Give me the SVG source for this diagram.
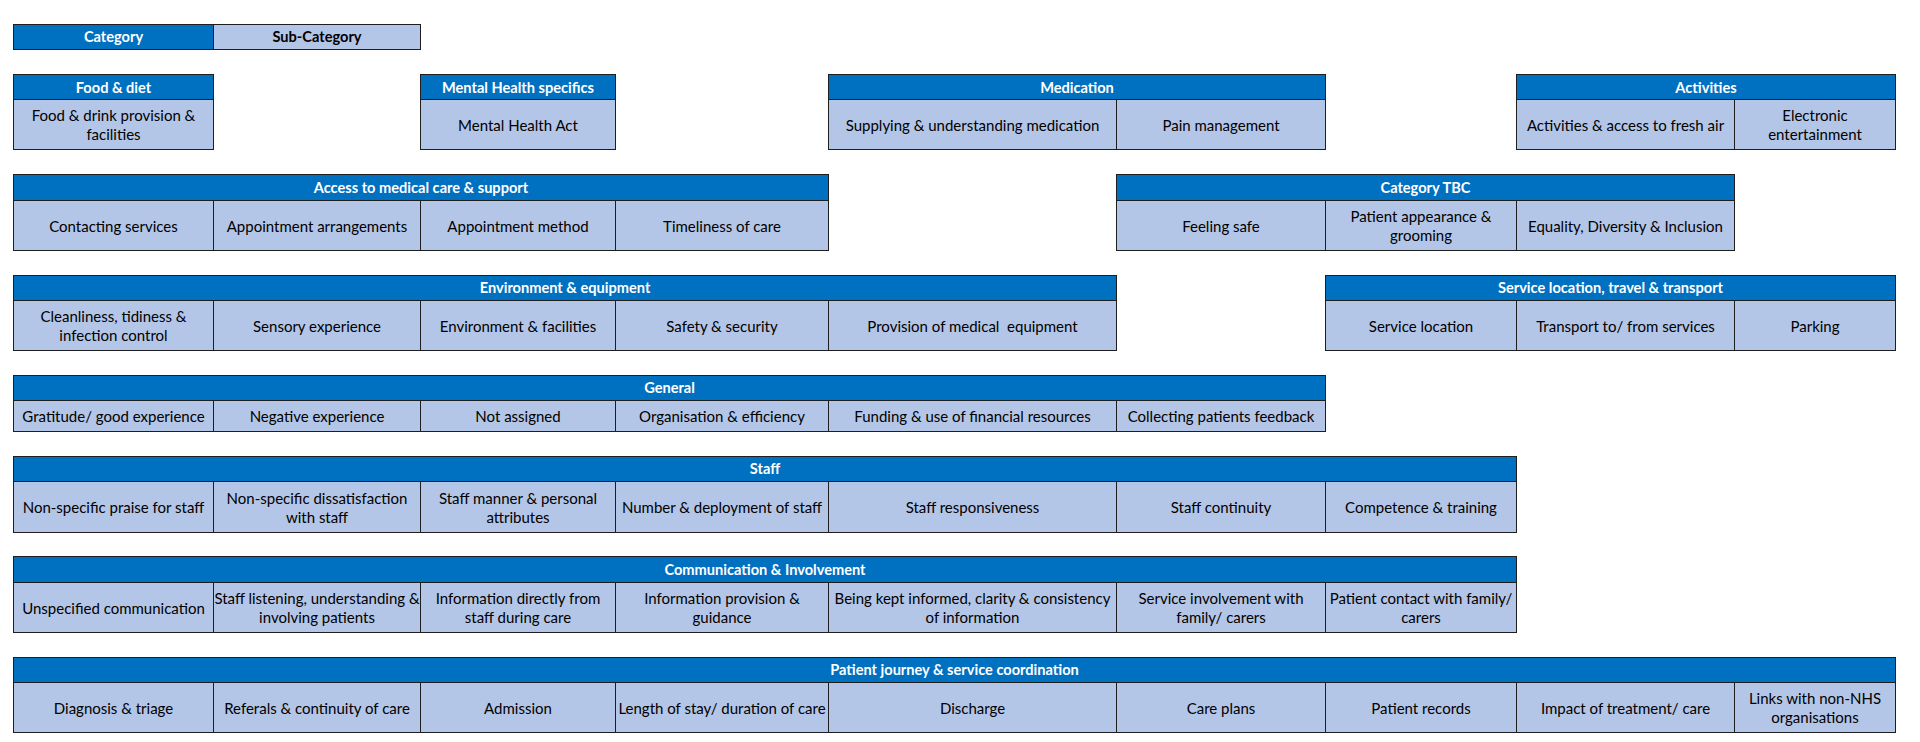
<svg xmlns="http://www.w3.org/2000/svg" width="1920" height="742" viewBox="0 0 1920 742">
  <style>
    .h { fill: #0070C0; stroke: #1e1e1e; stroke-width: 1; }
    .s { fill: #B4C6E7; stroke: #1e1e1e; stroke-width: 1; }
    .ht { font-family: Lato, "Liberation Sans", sans-serif; font-weight: bold; font-size: 14.6px; fill: #ffffff; text-anchor: middle; }
    .lt { font-family: Lato, "Liberation Sans", sans-serif; font-weight: bold; font-size: 14.6px; fill: #000000; text-anchor: middle; }
    .bt { font-family: Lato, "Liberation Sans", sans-serif; font-size: 15px; fill: #000000; text-anchor: middle; }
  </style>
  <rect width="1920" height="742" fill="#ffffff"/>

  <!-- Key -->
  <g id="legend">
    <rect class="h" x="13.5" y="24.5" width="200" height="25"/>
    <rect class="s" x="213.5" y="24.5" width="207" height="25"/>
    <text class="ht" x="113.5" y="42">Category</text>
    <text class="lt" x="317" y="42">Sub-Category</text>
  </g>

  <!-- Row 1 -->
  <g id="food-diet">
    <rect class="h" x="13.5" y="74.5" width="200" height="25"/>
    <rect class="s" x="13.5" y="99.5" width="200" height="50"/>
    <text class="ht" x="113.5" y="93">Food &amp; diet</text>
    <text class="bt" x="113.5" y="121"><tspan x="113.5">Food &amp; drink provision &amp;</tspan><tspan x="113.5" dy="19">facilities</tspan></text>
  </g>

  <g id="mental-health">
    <rect class="h" x="420.5" y="74.5" width="195" height="25"/>
    <rect class="s" x="420.5" y="99.5" width="195" height="50"/>
    <text class="ht" x="518" y="93">Mental Health specifics</text>
    <text class="bt" x="518" y="130.5">Mental Health Act</text>
  </g>

  <g id="medication">
    <rect class="h" x="828.5" y="74.5" width="497" height="25"/>
    <rect class="s" x="828.5" y="99.5" width="288" height="50"/>
    <rect class="s" x="1116.5" y="99.5" width="209" height="50"/>
    <text class="ht" x="1077" y="93">Medication</text>
    <text class="bt" x="972.5" y="130.5">Supplying &amp; understanding medication</text>
    <text class="bt" x="1221" y="130.5">Pain management</text>
  </g>

  <g id="activities">
    <rect class="h" x="1516.5" y="74.5" width="379" height="25"/>
    <rect class="s" x="1516.5" y="99.5" width="218" height="50"/>
    <rect class="s" x="1734.5" y="99.5" width="161" height="50"/>
    <text class="ht" x="1706" y="93">Activities</text>
    <text class="bt" x="1625.5" y="130.5">Activities &amp; access to fresh air</text>
    <text class="bt" x="1815" y="121"><tspan x="1815">Electronic</tspan><tspan x="1815" dy="19">entertainment</tspan></text>
  </g>

  <!-- Row 2 -->
  <g id="access-care">
    <rect class="h" x="13.5" y="174.5" width="815" height="26"/>
    <rect class="s" x="13.5" y="200.5" width="200" height="50"/>
    <rect class="s" x="213.5" y="200.5" width="207" height="50"/>
    <rect class="s" x="420.5" y="200.5" width="195" height="50"/>
    <rect class="s" x="615.5" y="200.5" width="213" height="50"/>
    <text class="ht" x="421" y="193">Access to medical care &amp; support</text>
    <text class="bt" x="113.5" y="231.5">Contacting services</text>
    <text class="bt" x="317" y="231.5">Appointment arrangements</text>
    <text class="bt" x="518" y="231.5">Appointment method</text>
    <text class="bt" x="722" y="231.5">Timeliness of care</text>
  </g>

  <g id="category-tbc">
    <rect class="h" x="1116.5" y="174.5" width="618" height="26"/>
    <rect class="s" x="1116.5" y="200.5" width="209" height="50"/>
    <rect class="s" x="1325.5" y="200.5" width="191" height="50"/>
    <rect class="s" x="1516.5" y="200.5" width="218" height="50"/>
    <text class="ht" x="1425.5" y="193">Category TBC</text>
    <text class="bt" x="1221" y="231.5">Feeling safe</text>
    <text class="bt" x="1421" y="222"><tspan x="1421">Patient appearance &amp;</tspan><tspan x="1421" dy="19">grooming</tspan></text>
    <text class="bt" x="1625.5" y="231.5">Equality, Diversity &amp; Inclusion</text>
  </g>

  <!-- Row 3 -->
  <g id="environment">
    <rect class="h" x="13.5" y="275.5" width="1103" height="25"/>
    <rect class="s" x="13.5" y="300.5" width="200" height="50"/>
    <rect class="s" x="213.5" y="300.5" width="207" height="50"/>
    <rect class="s" x="420.5" y="300.5" width="195" height="50"/>
    <rect class="s" x="615.5" y="300.5" width="213" height="50"/>
    <rect class="s" x="828.5" y="300.5" width="288" height="50"/>
    <text class="ht" x="565" y="293">Environment &amp; equipment</text>
    <text class="bt" x="113.5" y="322"><tspan x="113.5">Cleanliness, tidiness &amp;</tspan><tspan x="113.5" dy="19">infection control</tspan></text>
    <text class="bt" x="317" y="331.5">Sensory experience</text>
    <text class="bt" x="518" y="331.5">Environment &amp; facilities</text>
    <text class="bt" x="722" y="331.5">Safety &amp; security</text>
    <text class="bt" x="972.5" y="331.5" xml:space="preserve">Provision of medical  equipment</text>
  </g>

  <g id="service-location">
    <rect class="h" x="1325.5" y="275.5" width="570" height="25"/>
    <rect class="s" x="1325.5" y="300.5" width="191" height="50"/>
    <rect class="s" x="1516.5" y="300.5" width="218" height="50"/>
    <rect class="s" x="1734.5" y="300.5" width="161" height="50"/>
    <text class="ht" x="1610.5" y="293">Service location, travel &amp; transport</text>
    <text class="bt" x="1421" y="331.5">Service location</text>
    <text class="bt" x="1625.5" y="331.5">Transport to/ from services</text>
    <text class="bt" x="1815" y="331.5">Parking</text>
  </g>

  <!-- Row 4 -->
  <g id="general">
    <rect class="h" x="13.5" y="375.5" width="1312" height="25"/>
    <rect class="s" x="13.5" y="400.5" width="200" height="31"/>
    <rect class="s" x="213.5" y="400.5" width="207" height="31"/>
    <rect class="s" x="420.5" y="400.5" width="195" height="31"/>
    <rect class="s" x="615.5" y="400.5" width="213" height="31"/>
    <rect class="s" x="828.5" y="400.5" width="288" height="31"/>
    <rect class="s" x="1116.5" y="400.5" width="209" height="31"/>
    <text class="ht" x="669.5" y="393">General</text>
    <text class="bt" x="113.5" y="422">Gratitude/ good experience</text>
    <text class="bt" x="317" y="422">Negative experience</text>
    <text class="bt" x="518" y="422">Not assigned</text>
    <text class="bt" x="722" y="422">Organisation &amp; efficiency</text>
    <text class="bt" x="972.5" y="422">Funding &amp; use of financial resources</text>
    <text class="bt" x="1221" y="422">Collecting patients feedback</text>
  </g>

  <!-- Row 5 -->
  <g id="staff">
    <rect class="h" x="13.5" y="456.5" width="1503" height="25"/>
    <rect class="s" x="13.5" y="481.5" width="200" height="51"/>
    <rect class="s" x="213.5" y="481.5" width="207" height="51"/>
    <rect class="s" x="420.5" y="481.5" width="195" height="51"/>
    <rect class="s" x="615.5" y="481.5" width="213" height="51"/>
    <rect class="s" x="828.5" y="481.5" width="288" height="51"/>
    <rect class="s" x="1116.5" y="481.5" width="209" height="51"/>
    <rect class="s" x="1325.5" y="481.5" width="191" height="51"/>
    <text class="ht" x="765" y="474">Staff</text>
    <text class="bt" x="113.5" y="513">Non-specific praise for staff</text>
    <text class="bt" x="317" y="503.5"><tspan x="317">Non-specific dissatisfaction</tspan><tspan x="317" dy="19">with staff</tspan></text>
    <text class="bt" x="518" y="503.5"><tspan x="518">Staff manner &amp; personal</tspan><tspan x="518" dy="19">attributes</tspan></text>
    <text class="bt" x="722" y="513">Number &amp; deployment of staff</text>
    <text class="bt" x="972.5" y="513">Staff responsiveness</text>
    <text class="bt" x="1221" y="513">Staff continuity</text>
    <text class="bt" x="1421" y="513">Competence &amp; training</text>
  </g>

  <!-- Row 6 -->
  <g id="communication">
    <rect class="h" x="13.5" y="556.5" width="1503" height="26"/>
    <rect class="s" x="13.5" y="582.5" width="200" height="50"/>
    <rect class="s" x="213.5" y="582.5" width="207" height="50"/>
    <rect class="s" x="420.5" y="582.5" width="195" height="50"/>
    <rect class="s" x="615.5" y="582.5" width="213" height="50"/>
    <rect class="s" x="828.5" y="582.5" width="288" height="50"/>
    <rect class="s" x="1116.5" y="582.5" width="209" height="50"/>
    <rect class="s" x="1325.5" y="582.5" width="191" height="50"/>
    <text class="ht" x="765" y="574.5">Communication &amp; Involvement</text>
    <text class="bt" x="113.5" y="613.5">Unspecified communication</text>
    <text class="bt" x="317" y="604"><tspan x="317">Staff listening, understanding &amp;</tspan><tspan x="317" dy="19">involving patients</tspan></text>
    <text class="bt" x="518" y="604"><tspan x="518">Information directly from</tspan><tspan x="518" dy="19">staff during care</tspan></text>
    <text class="bt" x="722" y="604"><tspan x="722">Information provision &amp;</tspan><tspan x="722" dy="19">guidance</tspan></text>
    <text class="bt" x="972.5" y="604"><tspan x="972.5">Being kept informed, clarity &amp; consistency</tspan><tspan x="972.5" dy="19">of information</tspan></text>
    <text class="bt" x="1221" y="604"><tspan x="1221">Service involvement with</tspan><tspan x="1221" dy="19">family/ carers</tspan></text>
    <text class="bt" x="1421" y="604"><tspan x="1421">Patient contact with family/</tspan><tspan x="1421" dy="19">carers</tspan></text>
  </g>

  <!-- Row 7 -->
  <g id="patient-journey">
    <rect class="h" x="13.5" y="657.5" width="1882" height="25"/>
    <rect class="s" x="13.5" y="682.5" width="200" height="50"/>
    <rect class="s" x="213.5" y="682.5" width="207" height="50"/>
    <rect class="s" x="420.5" y="682.5" width="195" height="50"/>
    <rect class="s" x="615.5" y="682.5" width="213" height="50"/>
    <rect class="s" x="828.5" y="682.5" width="288" height="50"/>
    <rect class="s" x="1116.5" y="682.5" width="209" height="50"/>
    <rect class="s" x="1325.5" y="682.5" width="191" height="50"/>
    <rect class="s" x="1516.5" y="682.5" width="218" height="50"/>
    <rect class="s" x="1734.5" y="682.5" width="161" height="50"/>
    <text class="ht" x="954.5" y="674.5">Patient journey &amp; service coordination</text>
    <text class="bt" x="113.5" y="713.5">Diagnosis &amp; triage</text>
    <text class="bt" x="317" y="713.5">Referals &amp; continuity of care</text>
    <text class="bt" x="518" y="713.5">Admission</text>
    <text class="bt" x="722" y="713.5">Length of stay/ duration of care</text>
    <text class="bt" x="972.5" y="713.5">Discharge</text>
    <text class="bt" x="1221" y="713.5">Care plans</text>
    <text class="bt" x="1421" y="713.5">Patient records</text>
    <text class="bt" x="1625.5" y="713.5">Impact of treatment/ care</text>
    <text class="bt" x="1815" y="704"><tspan x="1815">Links with non-NHS</tspan><tspan x="1815" dy="19">organisations</tspan></text>
  </g>
</svg>
